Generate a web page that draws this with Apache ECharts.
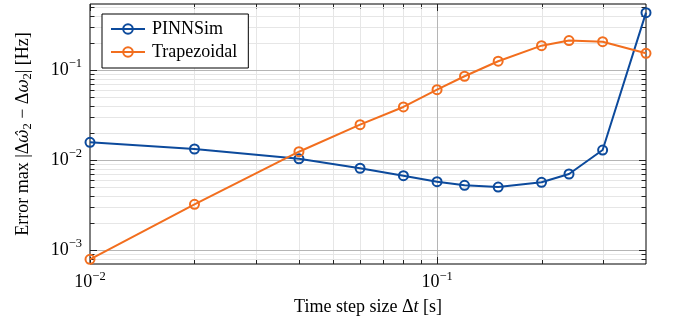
<!DOCTYPE html>
<html><head><meta charset="utf-8">
<script src="https://cdn.jsdelivr.net/npm/echarts@6/dist/echarts.min.js"></script>
<style>html,body{margin:0;padding:0;background:#fff}#c{width:676px;height:323px}</style>
</head><body><div id="c"></div>
<script>
// ---- data ----
const timeSteps = [0.01, 0.02, 0.04, 0.06, 0.08, 0.1, 0.12, 0.15, 0.2, 0.24, 0.3, 0.4];
const pinnsimError = [0.0157, 0.01325, 0.0103, 0.0081, 0.0067, 0.00574, 0.00523, 0.0050, 0.00565, 0.00699, 0.0129, 0.433];
const trapezoidalError = [0.00079, 0.00322, 0.01236, 0.0247, 0.0388, 0.0604, 0.0851, 0.125, 0.186, 0.212, 0.206, 0.153];
const seriesNames = ['PINNSim', 'Trapezoidal'];
const xMajorTicks = [0.01, 0.1];
const xMinorTicks = [0.02, 0.03, 0.04, 0.05, 0.06, 0.07, 0.08, 0.09, 0.2, 0.3];
const yMajorTicks = [0.001, 0.01, 0.1];
const yMinorTicks = [0.0008, 0.0009, 0.002, 0.003, 0.004, 0.005, 0.006, 0.007, 0.008, 0.009,
  0.02, 0.03, 0.04, 0.05, 0.06, 0.07, 0.08, 0.09, 0.2, 0.3, 0.4, 0.5];
const xRange = [0.01, 0.4];
const yRange = [0.0007, 0.54];

const FONT = '"Liberation Serif", "Times New Roman", serif';
const BLUE = '#0c4a9c';
const ORANGE = '#f26e1e';

function powLabel(v) {
  const e = Math.log10(v);
  const r = Math.round(e);
  if (Math.abs(e - r) > 1e-6) return '';
  return '{b|10}{s|' + (r < 0 ? '\u2212' + (-r) : r) + '}';
}
const labelRich = {
  b: { fontFamily: FONT, fontSize: 18, color: '#000' },
  s: { fontFamily: FONT, fontSize: 12.5, color: '#000', padding: [0, 0, 12, 0] }
};

const gridData = [].concat(
  xMinorTicks.map(v => [v, yRange[0], 0]),
  yMinorTicks.map(v => [xRange[0], v, 2]),
  xMajorTicks.map(v => [v, yRange[0], 1]),
  yMajorTicks.map(v => [xRange[0], v, 3])
);

function renderGrid(params, api) {
  const cs = params.coordSys;
  const kind = api.value(2);
  const p = api.coord([api.value(0), api.value(1)]);
  const major = (kind === 1 || kind === 3);
  const tl = major ? 7 : 4.5;
  const gc = major ? '#b5b5b5' : '#e6e6e6';
  const L = cs.x, R = cs.x + cs.width, T = cs.y, B = cs.y + cs.height;
  const ch = [];
  const ln = (x1, y1, x2, y2, c) => ({ type: 'line', shape: { x1, y1, x2, y2 }, style: { stroke: c, lineWidth: 1 } });
  if (kind < 2) {
    const x = Math.round(p[0]) + 0.5;
    if (x > L + 1.5 && x < R - 1.5) ch.push(ln(x, T, x, B, gc));
    ch.push(ln(x, B - tl, x, B, '#222'));
    ch.push(ln(x, T, x, T + tl, '#222'));
  } else {
    const y = Math.round(p[1]) + 0.5;
    if (y > T + 1.5 && y < B - 1.5) ch.push(ln(L, y, R, y, gc));
    ch.push(ln(L, y, L + tl, y, '#222'));
    ch.push(ln(R - tl, y, R, y, '#222'));
  }
  return { type: 'group', children: ch };
}

function lineSeries(name, values, color, z) {
  return {
    type: 'line', name, z, clip: false,
    data: timeSteps.map((t, i) => [t, values[i]]),
    symbol: 'circle', symbolSize: 9, showAllSymbol: true,
    lineStyle: { color, width: 2 },
    itemStyle: { color: 'rgba(255,255,255,0)', borderColor: color, borderWidth: 2 }
  };
}

const chart = echarts.init(document.getElementById('c'), null, { renderer: 'canvas' });
chart.setOption({
  animation: false,
  backgroundColor: '#fff',
  textStyle: { fontFamily: FONT },
  grid: { left: 90, right: 30, top: 4, bottom: 59, show: true, borderColor: '#000', borderWidth: 1, backgroundColor: 'transparent' },
  legend: {
    data: seriesNames,
    left: 102, top: 14, orient: 'vertical',
    padding: [6, 11, 7, 8],
    itemWidth: 34, itemHeight: 12, itemGap: 5,
    backgroundColor: '#fff', borderColor: '#000', borderWidth: 1, borderRadius: 0,
    textStyle: { fontFamily: FONT, fontSize: 18, color: '#000', lineHeight: 18, padding: [0, 0, 0, 2] }
  },
  xAxis: {
    type: 'log', logBase: 10, min: xRange[0], max: xRange[1],
    name: 'Time step size \u0394{i|t} [s]', nameLocation: 'middle', nameGap: 34,
    nameTextStyle: { fontFamily: FONT, fontSize: 18, color: '#000',
      rich: { i: { fontFamily: FONT, fontSize: 18, fontStyle: 'italic', color: '#000' } } },
    axisLine: { show: false }, axisTick: { show: false }, splitLine: { show: false }, minorTick: { show: false },
    axisLabel: { formatter: powLabel, rich: labelRich, margin: 6, showMinLabel: true, showMaxLabel: true, hideOverlap: false }
  },
  yAxis: {
    type: 'log', logBase: 10, min: yRange[0], max: yRange[1],
    name: 'Error max |\u0394{i|\u03c9\u0302}{sub|2} \u2212 \u0394{i|\u03c9}{sub|2}| [Hz]',
    nameLocation: 'middle', nameGap: 56, nameRotate: 90,
    nameTextStyle: { fontFamily: FONT, fontSize: 18, color: '#000',
      rich: {
        i: { fontFamily: '"DejaVu Serif", serif', fontSize: 16, fontStyle: 'italic', color: '#000' },
        sub: { fontFamily: FONT, fontSize: 12.5, color: '#000', padding: [8, 0, 0, 0] }
      } },
    axisLine: { show: false }, axisTick: { show: false }, splitLine: { show: false }, minorTick: { show: false },
    axisLabel: { formatter: powLabel, rich: labelRich, margin: 8, hideOverlap: false }
  },
  series: [
    {
      type: 'custom', name: 'grid', z: 1, silent: true, clip: false,
      data: gridData, encode: { x: 0, y: 1 }, renderItem: renderGrid
    },
    lineSeries(seriesNames[0], pinnsimError, BLUE, 3),
    lineSeries(seriesNames[1], trapezoidalError, ORANGE, 4)
  ]
});
</script>
</body></html>
